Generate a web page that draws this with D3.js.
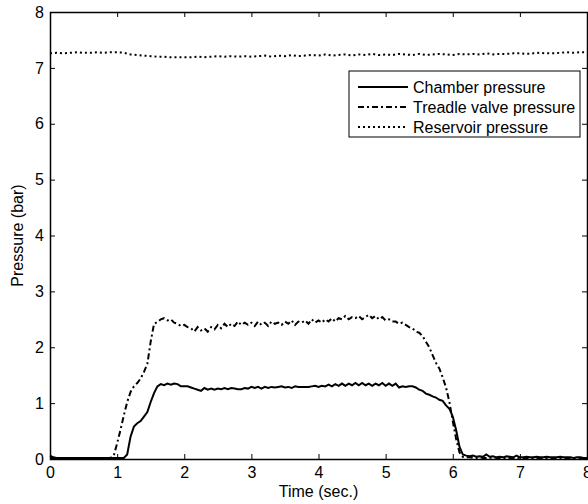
<!DOCTYPE html>
<html>
<head>
<meta charset="utf-8">
<script src="https://cdn.jsdelivr.net/npm/d3@7"></script>
<style>
  body { margin: 0; background: #fff; }
  svg { font-family: "Liberation Sans", Arial, sans-serif; }
</style>
</head>
<body>
<div id="chart"></div>
<script>
// time bases (s)
const tFine = d3.range(0, 161).map(i => i * 0.05)
const tCoarse = d3.range(0, 81).map(i => i * 0.1)

// chamber pressure, every 0.05 s
const chamber = [
  0.06, 0.03, 0.02, 0.02, 0.02, 0.02, 0.02, 0.02, 0.02, 0.02,
  0.02, 0.02, 0.02, 0.02, 0.02, 0.02, 0.02, 0.02, 0.02, 0.02,
  0.02, 0.02, 0.02, 0.08, 0.40, 0.58, 0.64, 0.68, 0.76, 0.84,
  1.02, 1.18, 1.30, 1.34, 1.32, 1.35, 1.33, 1.35, 1.34, 1.30,
  1.30, 1.30, 1.28, 1.26, 1.24, 1.22, 1.27, 1.24, 1.26, 1.24,
  1.26, 1.25, 1.27, 1.25, 1.27, 1.26, 1.25, 1.25, 1.27, 1.26,
  1.29, 1.27, 1.29, 1.26, 1.29, 1.27, 1.29, 1.28, 1.29, 1.30,
  1.28, 1.29, 1.27, 1.30, 1.29, 1.29, 1.29, 1.29, 1.30, 1.31,
  1.29, 1.31, 1.30, 1.33, 1.30, 1.34, 1.31, 1.35, 1.31, 1.35,
  1.32, 1.36, 1.32, 1.36, 1.32, 1.35, 1.31, 1.35, 1.32, 1.36,
  1.31, 1.35, 1.31, 1.35, 1.28, 1.30, 1.29, 1.30, 1.30, 1.28,
  1.24, 1.22, 1.17, 1.15, 1.12, 1.10, 1.06, 1.04, 0.96, 0.90,
  0.76, 0.52, 0.22, 0.08, 0.06, 0.05, 0.06, 0.04, 0.05, 0.04,
  0.08, 0.04, 0.05, 0.03, 0.04, 0.03, 0.05, 0.04, 0.03, 0.06,
  0.03, 0.03, 0.04, 0.03, 0.03, 0.04, 0.03, 0.03, 0.04, 0.03,
  0.03, 0.03, 0.04, 0.03, 0.03, 0.03, 0.02, 0.03, 0.03, 0.02,
  0.02
]

// treadle valve pressure, every 0.05 s
const treadle = [
  0.02, 0.02, 0.02, 0.02, 0.02, 0.02, 0.02, 0.02, 0.02, 0.02,
  0.02, 0.02, 0.02, 0.02, 0.02, 0.02, 0.02, 0.02, 0.02, 0.06,
  0.28, 0.52, 0.78, 1.02, 1.20, 1.30, 1.36, 1.44, 1.56, 1.70,
  2.10, 2.42, 2.45, 2.50, 2.52, 2.48, 2.50, 2.44, 2.42, 2.38,
  2.40, 2.36, 2.34, 2.28, 2.36, 2.30, 2.34, 2.28, 2.36, 2.32,
  2.40, 2.34, 2.42, 2.36, 2.42, 2.38, 2.46, 2.40, 2.44, 2.40,
  2.44, 2.38, 2.46, 2.40, 2.44, 2.38, 2.46, 2.42, 2.44, 2.40,
  2.46, 2.42, 2.48, 2.40, 2.46, 2.44, 2.48, 2.42, 2.50, 2.44,
  2.48, 2.44, 2.50, 2.46, 2.52, 2.46, 2.52, 2.50, 2.56, 2.50,
  2.54, 2.52, 2.56, 2.50, 2.54, 2.58, 2.52, 2.56, 2.50, 2.54,
  2.48, 2.50, 2.46, 2.46, 2.42, 2.44, 2.40, 2.36, 2.34, 2.28,
  2.26, 2.20, 2.10, 2.00, 1.86, 1.72, 1.62, 1.46, 1.28, 1.02,
  0.68, 0.36, 0.12, 0.04, 0.03, 0.03, 0.02, 0.02, 0.03, 0.02,
  0.02, 0.02, 0.03, 0.02, 0.02, 0.02, 0.02, 0.02, 0.02, 0.02,
  0.02, 0.02, 0.02, 0.02, 0.02, 0.02, 0.02, 0.02, 0.02, 0.02,
  0.02, 0.02, 0.02, 0.02, 0.02, 0.02, 0.02, 0.02, 0.02, 0.02,
  0.02
]

// reservoir pressure, every 0.1 s
const reservoir = [
  7.26, 7.27, 7.26, 7.27, 7.28, 7.27, 7.27, 7.28, 7.27, 7.28,
  7.28, 7.27, 7.24, 7.23, 7.22, 7.21, 7.20, 7.20, 7.19, 7.19,
  7.19, 7.19, 7.20, 7.19, 7.20, 7.21, 7.20, 7.21, 7.20, 7.21,
  7.20, 7.21, 7.22, 7.20, 7.22, 7.21, 7.23, 7.21, 7.22, 7.23,
  7.22, 7.24, 7.22, 7.23, 7.24, 7.22, 7.24, 7.23, 7.25, 7.23,
  7.24, 7.23, 7.25, 7.24, 7.23, 7.25, 7.23, 7.24, 7.25, 7.24,
  7.23, 7.25, 7.24, 7.25, 7.24, 7.26, 7.24, 7.25, 7.25, 7.26,
  7.26, 7.25, 7.26, 7.27, 7.26, 7.26, 7.27, 7.28, 7.27, 7.28,
  7.28
]

const xTicks = [0, 1, 2, 3, 4, 5, 6, 7, 8]
const yTicks = [0, 1, 2, 3, 4, 5, 6, 7, 8]
const seriesNames = ["Chamber pressure", "Treadle valve pressure", "Reservoir pressure"]
const seriesDash = ["none", "6,3,2,3", "2,3"]

const width = 588
const height = 504
const margin = {top: 12, right: 1, bottom: 45, left: 50}

const svg = d3.select("#chart")
    .append("svg")
    .attr("width", width)
    .attr("height", height)

const x = d3.scaleLinear().domain([0, 8]).range([margin.left, width - margin.right])
const y = d3.scaleLinear().domain([0, 8]).range([height - margin.bottom, margin.top])

const line = d3.line()
    .x(d => x(d[0]))
    .y(d => y(d[1]))

const series = [
    tFine.map((t, i) => [t, chamber[i]]),
    tFine.map((t, i) => [t, treadle[i]]),
    tCoarse.map((t, i) => [t, reservoir[i]])
]

// axes, ticks pointing inward on all four sides
const styleAxis = g => {
    g.select(".domain").remove()
    g.selectAll(".tick line").attr("stroke", "#000")
    g.selectAll("text").attr("fill", "#000").style("font-size", "16px")
}

svg.append("g")
    .attr("transform", `translate(0,${y(0)})`)
    .call(d3.axisBottom(x).tickValues(xTicks).tickSize(-5).tickPadding(8).tickFormat(d3.format("d")))
    .call(styleAxis)

svg.append("g")
    .attr("transform", `translate(${x(0)},0)`)
    .call(d3.axisLeft(y).tickValues(yTicks).tickSize(-5).tickPadding(6).tickFormat(d3.format("d")))
    .call(styleAxis)

svg.append("g")
    .attr("transform", `translate(0,${y(8)})`)
    .call(d3.axisTop(x).tickValues(xTicks).tickSize(-5).tickFormat(""))
    .call(styleAxis)

svg.append("g")
    .attr("transform", `translate(${x(8)},0)`)
    .call(d3.axisRight(y).tickValues(yTicks).tickSize(-5).tickFormat(""))
    .call(styleAxis)

svg.append("rect")
    .attr("x", x(0) + 0.5)
    .attr("y", y(8) + 0.5)
    .attr("width", x(8) - x(0))
    .attr("height", y(0) - y(8))
    .attr("fill", "none")
    .attr("stroke", "#000")
    .attr("stroke-width", 1.5)

svg.append("g")
    .selectAll("path")
    .data(series)
    .join("path")
    .attr("d", line)
    .attr("fill", "none")
    .attr("stroke", "#000")
    .attr("stroke-width", 2)
    .attr("stroke-dasharray", (d, i) => seriesDash[i])

// legend
const legend = svg.append("g").attr("transform", "translate(349,71)")

legend.append("rect")
    .attr("width", 231)
    .attr("height", 66)
    .attr("fill", "#fff")
    .attr("stroke", "#000")

const item = legend.selectAll("g.item")
    .data(seriesNames)
    .join("g")
    .attr("class", "item")
    .attr("transform", (d, i) => `translate(0,${16 + i * 20})`)

item.append("line")
    .attr("x1", 9).attr("x2", 59)
    .attr("stroke", "#000")
    .attr("stroke-width", 2)
    .attr("stroke-dasharray", (d, i) => seriesDash[i])

item.append("text")
    .attr("x", 64)
    .attr("dy", "0.35em")
    .style("font-size", "16px")
    .text(d => d)

svg.append("text")
    .attr("x", (x(0) + x(8)) / 2)
    .attr("y", 497)
    .attr("text-anchor", "middle")
    .style("font-size", "16px")
    .text("Time (sec.)")

svg.append("text")
    .attr("transform", `translate(23,${(y(0) + y(8)) / 2}) rotate(-90)`)
    .attr("text-anchor", "middle")
    .style("font-size", "16px")
    .text("Pressure (bar)")
</script>
</body>
</html>
